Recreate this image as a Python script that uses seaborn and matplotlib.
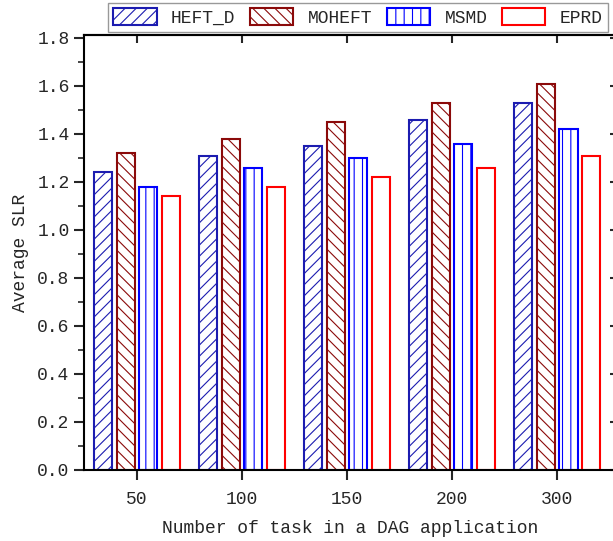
import pandas as pd
import seaborn as sns
import matplotlib.pyplot as plt
from matplotlib.ticker import MultipleLocator

# values
tasks = ['50', '100', '150', '200', '300']
algs = ['HEFT_D', 'MOHEFT', 'MSMD', 'EPRD']
heft_d = [1.24, 1.31, 1.35, 1.46, 1.53]
moheft = [1.32, 1.38, 1.45, 1.53, 1.61]
msmd = [1.18, 1.26, 1.30, 1.36, 1.42]
eprd = [1.14, 1.18, 1.22, 1.26, 1.31]

colors = ['#1c1cb0', '#8b0a0a', '#0000ff', '#ff0000']
hatches = ['///', '\\\\\\', '||', '']

rows = []
for alg, vals in zip(algs, [heft_d, moheft, msmd, eprd]):
    for t, v in zip(tasks, vals):
        rows.append({'tasks': t, 'slr': v, 'alg': alg})
df = pd.DataFrame(rows)

sns.set_style('ticks')
plt.rcParams['font.family'] = ['Liberation Mono', 'DejaVu Sans']
plt.rcParams['hatch.linewidth'] = 0.8

fig = plt.figure(figsize=(6.13, 5.41), dpi=100)
ax = fig.add_axes([83.5 / 613, 1 - 470 / 541, (616 - 83.5) / 613, (470 - 35) / 541])

sns.barplot(data=df, x='tasks', y='slr', hue='alg', order=tasks, hue_order=algs,
            width=0.86, gap=0.2, fill=False, linewidth=1.5, ax=ax, legend=False)

for cont, c, h in zip(ax.containers, colors, hatches):
    for p in cont.patches:
        p.set_facecolor('white')
        p.set_edgecolor(c)
        p.set_hatch(h)
        p.set_linewidth(1.5)

ax.set_xlim(-0.51, 4.56)
ax.set_ylim(0, 1.8125)
ax.yaxis.set_major_locator(MultipleLocator(0.2))
ax.yaxis.set_minor_locator(MultipleLocator(0.1))
ax.yaxis.set_major_formatter(plt.FuncFormatter(lambda v, p: f'{v:.1f}'))

for s in ax.spines.values():
    s.set_visible(True)
    s.set_linewidth(1.5)
    s.set_color('black')

ax.tick_params(axis='y', which='major', direction='out', length=7, width=1.5,
               labelsize=13, pad=3)
ax.tick_params(axis='y', which='minor', direction='out', length=4, width=1.2)
ax.tick_params(axis='y', which='both', right=False)
ax.tick_params(axis='x', direction='out', length=7, width=1.5, labelsize=13,
               top=False, pad=8)

# inward ticks on the top and right edges
sec_y = ax.secondary_yaxis('right')
sec_y.yaxis.set_major_locator(MultipleLocator(0.2))
sec_y.tick_params(direction='in', length=4, width=1.5, labelright=False)
sec_y.tick_params(which='minor', length=0)
sec_y.spines['right'].set_linewidth(1.5)
sec_x = ax.secondary_xaxis('top')
sec_x.set_xticks(range(len(tasks)))
sec_x.tick_params(direction='in', length=6, width=1.5, labeltop=False)
sec_x.spines['top'].set_linewidth(1.5)

ax.set_xlabel('Number of task in a DAG application', fontsize=13, labelpad=9)
ax.set_ylabel('Average SLR', fontsize=13, labelpad=6)

leg = fig.legend(handles=ax.containers, labels=algs, ncol=4, loc='upper center',
                 bbox_to_anchor=(358 / 613, 1 - 3 / 541), fontsize=13, frameon=True,
                 fancybox=False, edgecolor='#808080', handlelength=2.4,
                 handleheight=1.0, handletextpad=0.8, columnspacing=0.8,
                 borderpad=0.3, borderaxespad=0)
leg.get_frame().set_linewidth(1.0)

fig.savefig('out.png', dpi=100)
